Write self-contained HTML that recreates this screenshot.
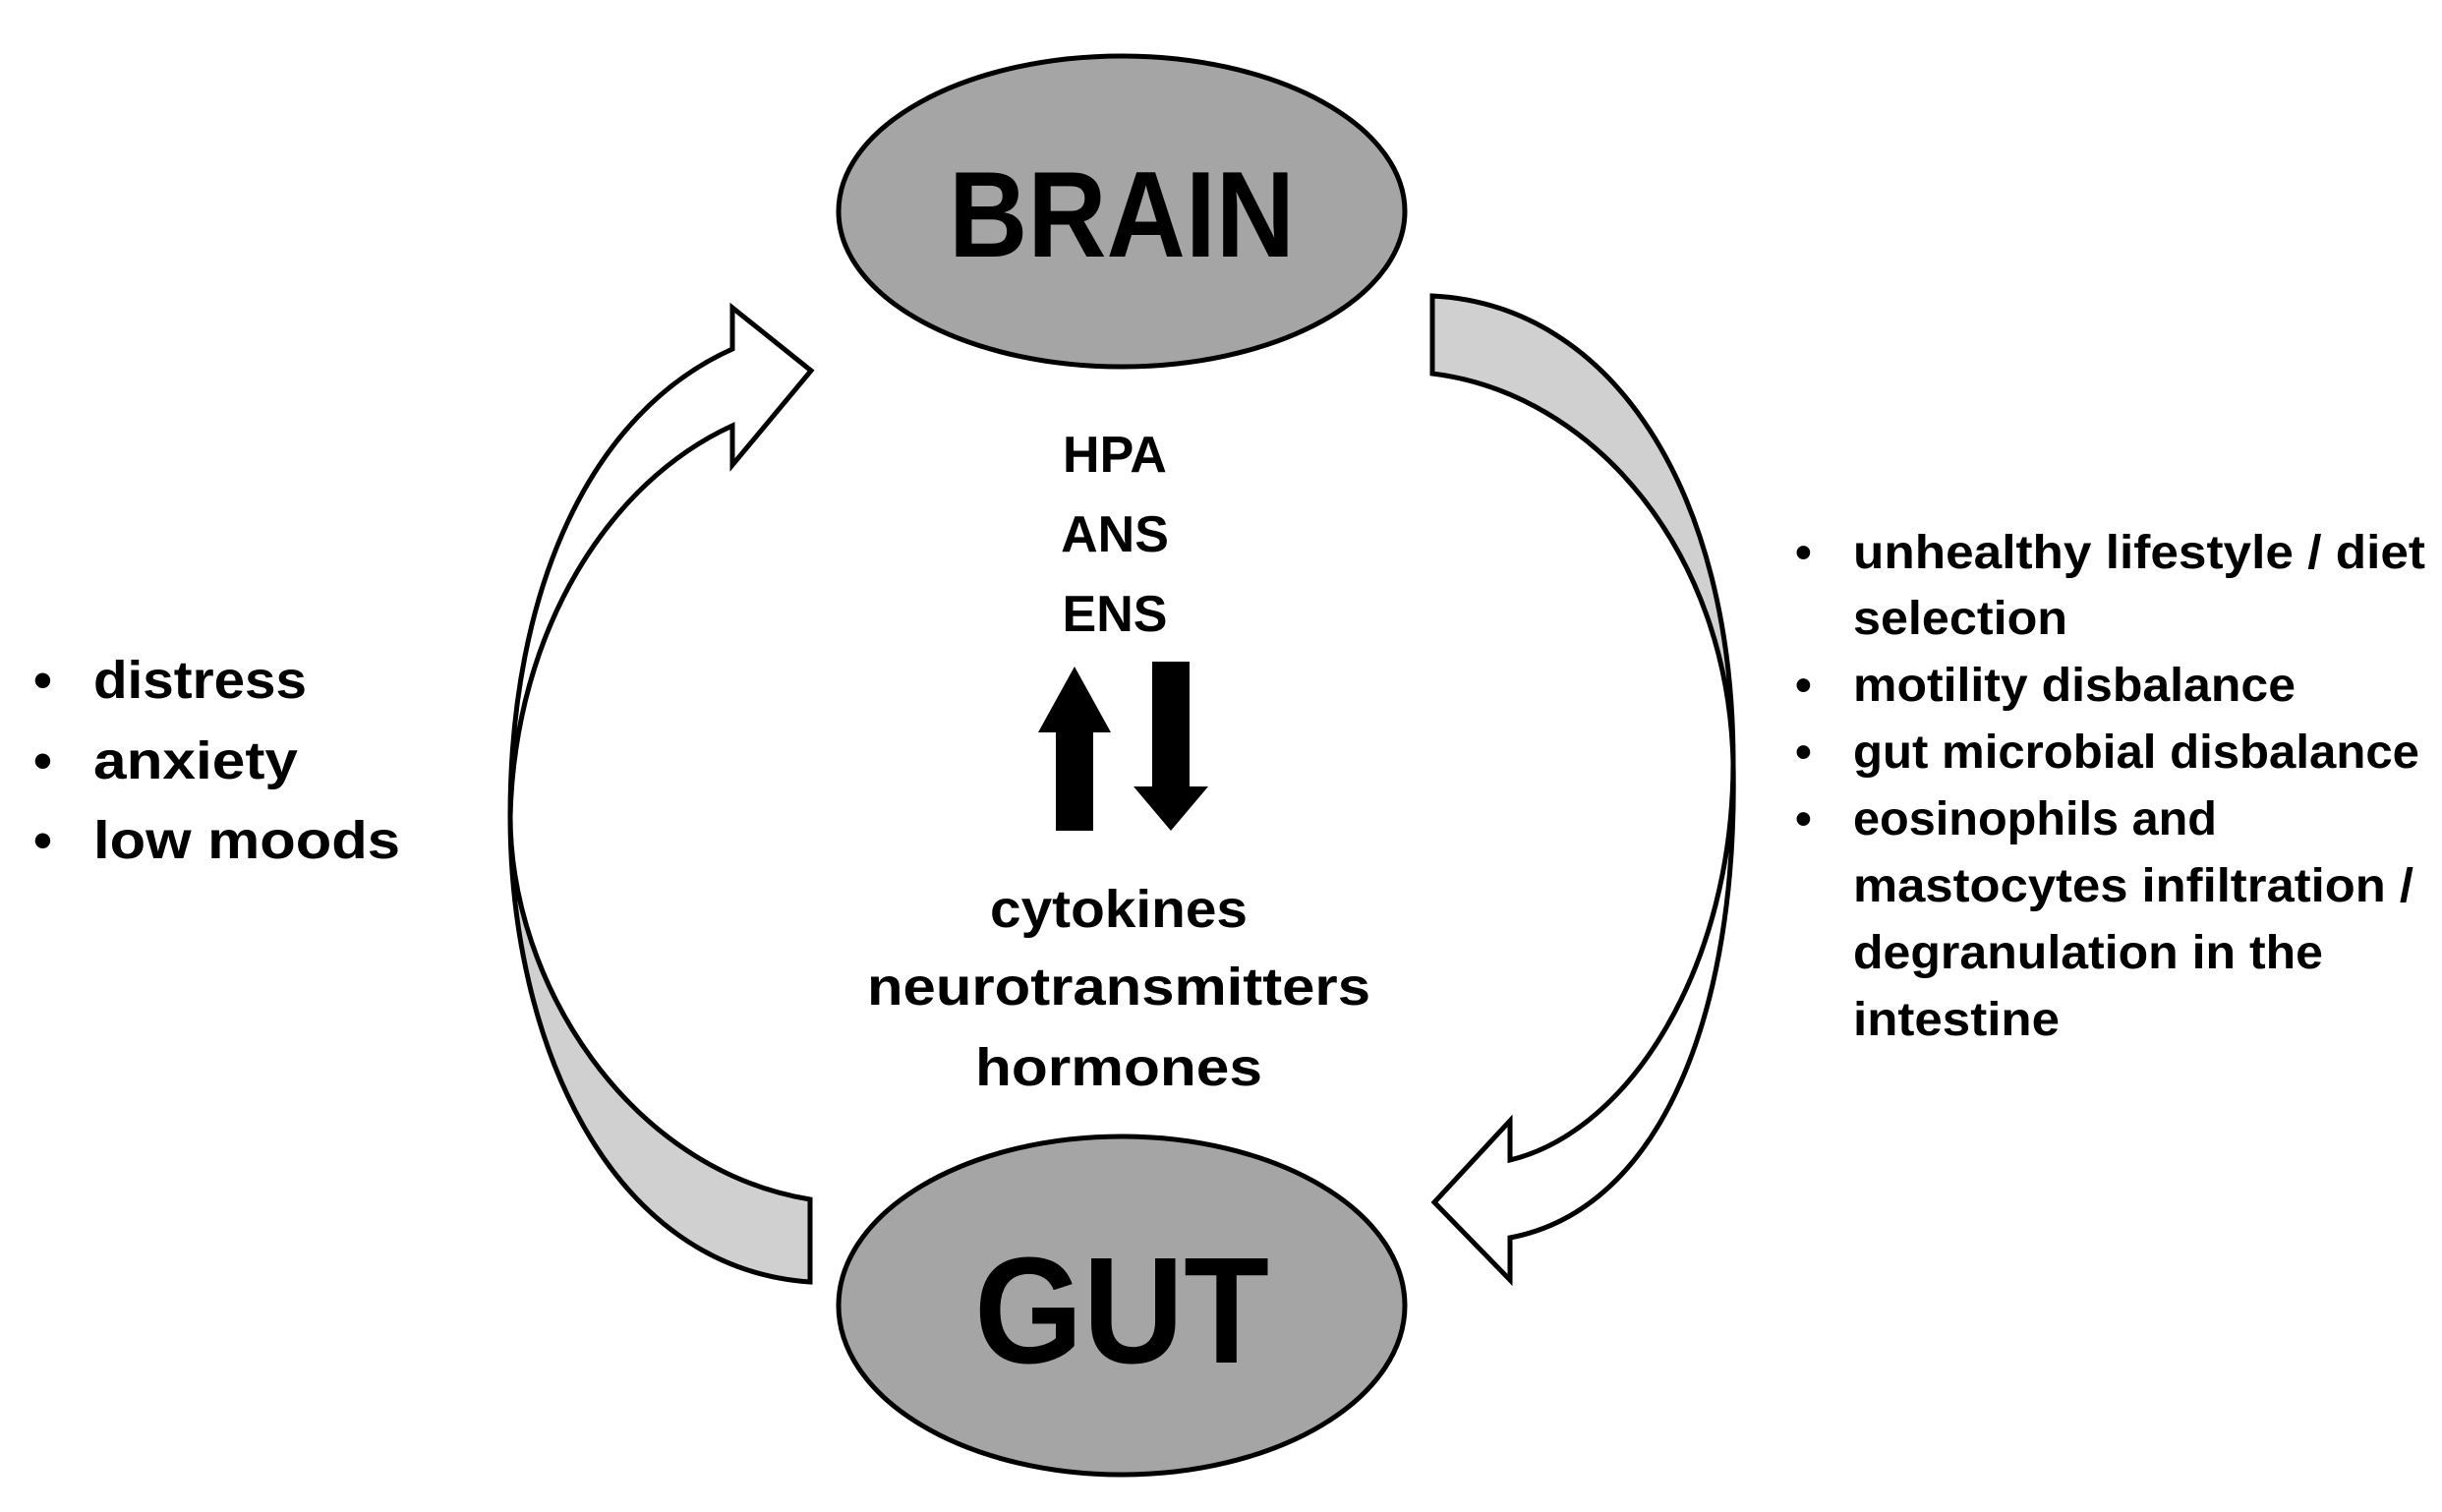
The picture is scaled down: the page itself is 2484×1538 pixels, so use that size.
<!DOCTYPE html>
<html><head><meta charset="utf-8"><style>
html,body{margin:0;padding:0;background:#fff;}
svg{display:block;}
text{font-family:"Liberation Sans",sans-serif;font-weight:bold;fill:#000;}
</style></head><body>
<svg width="2484" height="1538" viewBox="0 0 2484 1538" xmlns="http://www.w3.org/2000/svg">
<ellipse cx="1141" cy="215" rx="288" ry="158" fill="#a5a5a5" stroke="#000" stroke-width="5"/>
<ellipse cx="1141" cy="1328" rx="288" ry="172" fill="#a5a5a5" stroke="#000" stroke-width="5"/>
<text x="1141" y="261" text-anchor="middle" font-size="124" textLength="352" lengthAdjust="spacingAndGlyphs">BRAIN</text>
<text x="1141" y="1386" text-anchor="middle" font-size="154" textLength="300" lengthAdjust="spacingAndGlyphs">GUT</text>

<path d="M519,830 C519,600 600,420 745,355 L745,313 L825,377 L745,473 L745,433 C620,490 524,640 519,830 Z" fill="#fff" stroke="#000" stroke-width="5"/>
<path d="M519,830 C519,1000 640,1190 824,1220 L824,1304 C620,1290 519,1060 519,830 Z" fill="#d0d0d0" stroke="#000" stroke-width="5"/>

<path d="M1457,301 C1640,310 1763,500 1763,776 C1758,560 1620,400 1457,380 Z" fill="#d0d0d0" stroke="#000" stroke-width="5"/>
<path d="M1763,776 C1763,980 1660,1150 1536,1180 L1536,1140 L1459,1223 L1536,1302 L1536,1259 C1690,1230 1768,1030 1763,776 Z" fill="#fff" stroke="#000" stroke-width="5"/>

<text x="1134" y="480" text-anchor="middle" font-size="52">HPA</text>
<text x="1134" y="561" text-anchor="middle" font-size="52">ANS</text>
<text x="1134" y="642" text-anchor="middle" font-size="52">ENS</text>

<polygon points="1093,678 1130,745 1112,745 1112,845 1074,845 1074,745 1056,745" fill="#000"/>
<polygon points="1172,673 1210,673 1210,800 1229,800 1191,845 1153,800 1172,800" fill="#000"/>

<text x="1138" y="943" text-anchor="middle" font-size="54" textLength="262" lengthAdjust="spacingAndGlyphs">cytokines</text>
<text x="1138" y="1022" text-anchor="middle" font-size="54" textLength="512" lengthAdjust="spacingAndGlyphs">neurotransmitters</text>
<text x="1138" y="1104" text-anchor="middle" font-size="54" textLength="292" lengthAdjust="spacingAndGlyphs">hormones</text>

<g font-size="54">
<text x="34" y="710">•</text><text x="95" y="710" textLength="217" lengthAdjust="spacingAndGlyphs">distress</text>
<text x="34" y="792">•</text><text x="95" y="792" textLength="208" lengthAdjust="spacingAndGlyphs">anxiety</text>
<text x="34" y="873">•</text><text x="95" y="873" textLength="312" lengthAdjust="spacingAndGlyphs">low moods</text>
</g>

<g font-size="48">
<text x="1826" y="578">•</text><text x="1885" y="578" textLength="582" lengthAdjust="spacingAndGlyphs">unhealthy lifestyle / diet</text>
<text x="1885" y="645" textLength="218" lengthAdjust="spacingAndGlyphs">selection</text>
<text x="1826" y="713">•</text><text x="1885" y="713" textLength="450" lengthAdjust="spacingAndGlyphs">motility disbalance</text>
<text x="1826" y="781">•</text><text x="1885" y="781" textLength="576" lengthAdjust="spacingAndGlyphs">gut microbial disbalance</text>
<text x="1826" y="849">•</text><text x="1885" y="849" textLength="370" lengthAdjust="spacingAndGlyphs">eosinophils and</text>
<text x="1885" y="917" textLength="570" lengthAdjust="spacingAndGlyphs">mastocytes infiltration /</text>
<text x="1885" y="985" textLength="478" lengthAdjust="spacingAndGlyphs">degranulation in the</text>
<text x="1885" y="1053" textLength="210" lengthAdjust="spacingAndGlyphs">intestine</text>
</g>
</svg>
</body></html>
